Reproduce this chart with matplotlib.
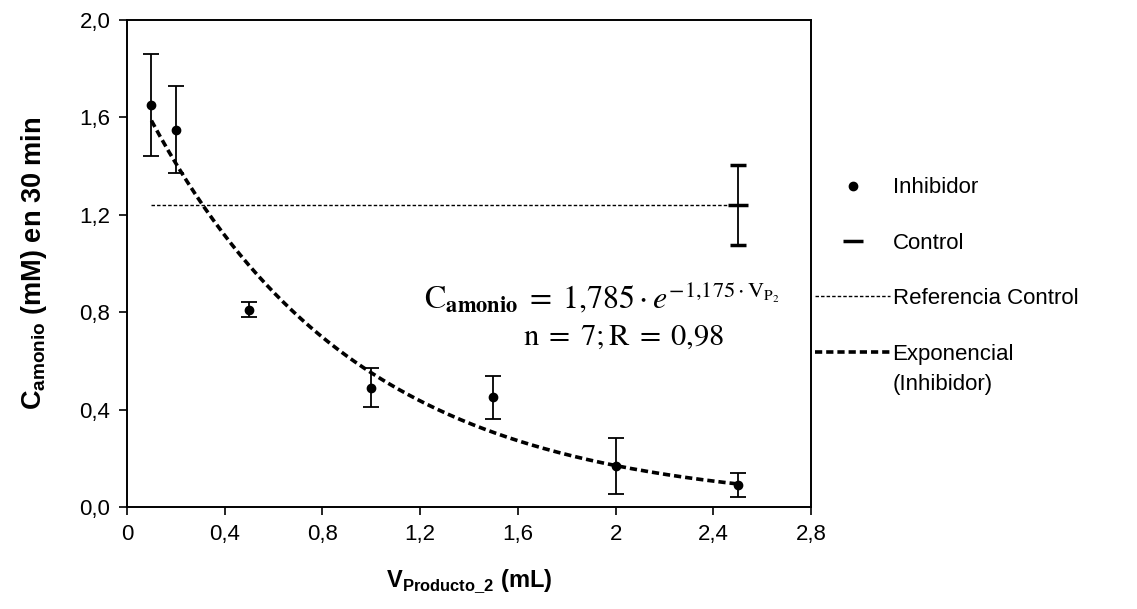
"""
Concentración de amonio frente al volumen de producto 2 (inhibidor vs control).
"""

import numpy as np
import matplotlib
matplotlib.use('Agg')
import matplotlib.pyplot as plt
from matplotlib.lines import Line2D
from matplotlib.ticker import FuncFormatter, MultipleLocator

plt.rcParams['font.family'] = ['Liberation Sans', 'DejaVu Sans']
plt.rcParams['mathtext.fontset'] = 'custom'
plt.rcParams['mathtext.rm'] = 'Liberation Sans'
plt.rcParams['mathtext.bf'] = 'Liberation Sans:bold'

# Inhibidor
vol_inhib = [0.1, 0.2, 0.5, 1.0, 1.5, 2.0, 2.5]
conc_inhib = [1.65, 1.55, 0.81, 0.49, 0.45, 0.17, 0.09]
err_inhib = [0.21, 0.18, 0.03, 0.08, 0.09, 0.115, 0.05]

# Control
vol_control = [2.5]
conc_control = [1.24]
err_control = [0.165]

# Ajuste exponencial
fit_a = 1.785
fit_b = 1.175
fit_range = [0.1, 2.5]

fig = plt.figure(figsize=(11.37, 6.09), dpi=100)
ax = fig.add_axes([0.1117, 0.1675, 0.6016, 0.7995])

ref_style = dict(color='black', lw=1.0, linestyle=(0, (2.5, 1.5)))
exp_style = dict(color='black', lw=2.6, linestyle=(0, (2.0, 1.1)))

# Referencia control
ax.plot(fit_range, [conc_control[0]] * 2, zorder=2, **ref_style)

# Curva exponencial
xs = np.linspace(fit_range[0], fit_range[1], 200)
ax.plot(xs, fit_a * np.exp(-fit_b * xs), zorder=3, **exp_style)

ax.errorbar(vol_inhib, conc_inhib, yerr=err_inhib, fmt='o', color='black',
            markersize=6, capsize=6, elinewidth=1.3, capthick=1.3, zorder=4)
ax.errorbar(vol_control, conc_control, yerr=err_control, fmt='_', color='black',
            markersize=14, markeredgewidth=2.5, capsize=6, elinewidth=1.3,
            capthick=1.3, zorder=4)

ax.set_xlim(0, 2.8)
ax.set_ylim(0, 2.0)
ax.xaxis.set_major_locator(MultipleLocator(0.4))
ax.yaxis.set_major_locator(MultipleLocator(0.4))
ax.xaxis.set_major_formatter(FuncFormatter(lambda v, p: f'{v:.1f}'.rstrip('0').rstrip('.').replace('.', ',')))
ax.yaxis.set_major_formatter(FuncFormatter(lambda v, p: f'{v:.1f}'.replace('.', ',')))
ax.tick_params(direction='out', length=6, width=1.2, labelsize=16, pad=6)
for sp in ax.spines.values():
    sp.set_linewidth(1.4)

ax.set_xlabel(r'$\mathbf{V}_{\mathbf{Producto\_2}}$ (mL)', fontsize=17, fontweight='bold', labelpad=16)
ax.set_ylabel(r'$\mathbf{C}_{\mathbf{amonio}}$ (mM) en 30 min', fontsize=19.5, fontweight='bold', labelpad=22)

ax.text(0.955, 0.43, r'$\mathrm{C}_{\mathbf{amonio}} \;=\; 1{,}785 \cdot e^{-1{,}175 \cdot \mathrm{V}_{\mathrm{P}_2}}$',
        transform=ax.transAxes, ha='right', va='center', fontsize=23, math_fontfamily='stix')
ax.text(0.873, 0.35, r'$\mathrm{n} \;=\; 7; \mathrm{R} \;=\; 0{,}98$',
        transform=ax.transAxes, ha='right', va='center', fontsize=22, math_fontfamily='stix')

handles = [
    Line2D([], [], marker='o', color='black', linestyle='none', markersize=6),
    Line2D([], [], marker='_', color='black', linestyle='none', markersize=14, markeredgewidth=2.5),
    Line2D([], [], **ref_style),
    Line2D([], [], **exp_style),
]
labels = ['Inhibidor', 'Control', 'Referencia Control', 'Exponencial']
leg = fig.legend(handles, labels, loc='center left', bbox_to_anchor=(0.699, 0.555), frameon=False,
                 fontsize=16, labelspacing=1.55, handlelength=3.4, handletextpad=0.1)

# segunda línea de la etiqueta del ajuste, bajo "Exponencial"
fig.canvas.draw()
bb = leg.get_texts()[3].get_window_extent()
fig.text(bb.x0 / fig.bbox.width, (bb.y0 - 30) / fig.bbox.height, '(Inhibidor)',
         fontsize=16, ha='left', va='bottom')

fig.savefig('out.png', dpi=100)
